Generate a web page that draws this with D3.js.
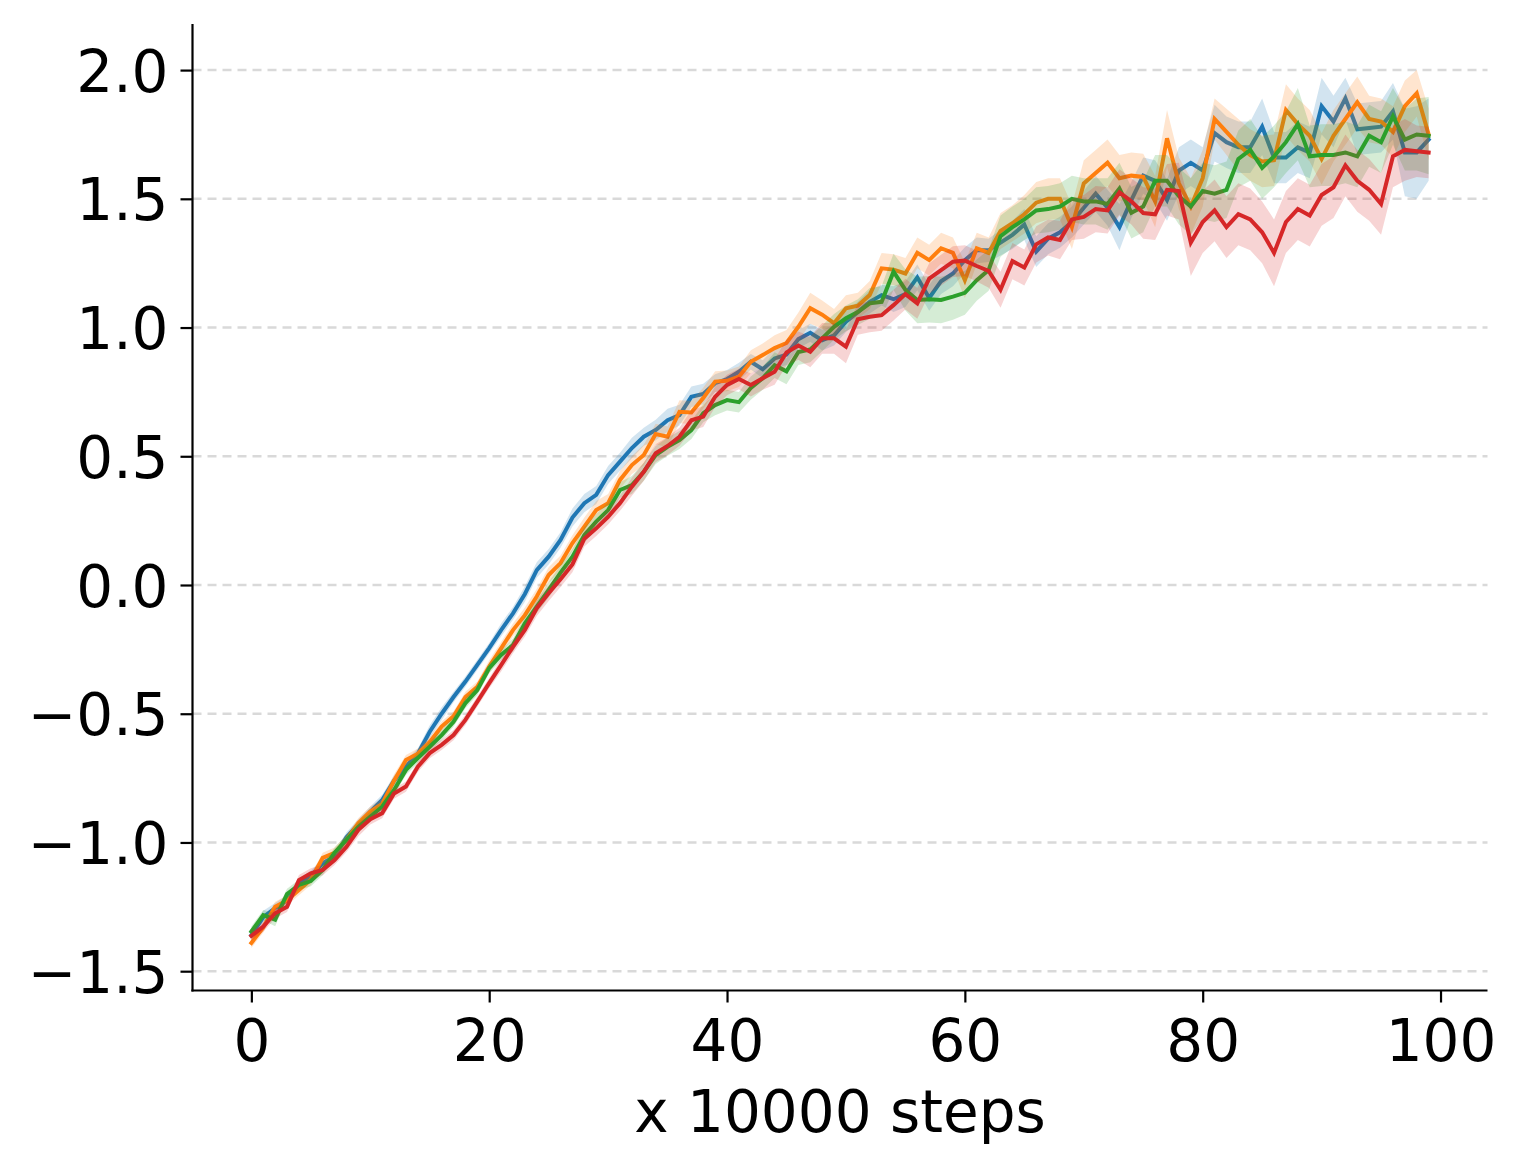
<!DOCTYPE html>
<html>
<head>
<meta charset="utf-8">
<script src="https://cdn.jsdelivr.net/npm/d3@7"></script>
<style>
  html, body { margin: 0; padding: 0; background: #fff; }
  svg { display: block; }
  text { font-family: "DejaVu Sans", sans-serif; fill: #000; }
</style>
</head>
<body>
<svg id="chart" width="1521" height="1169"></svg>
<script>
// ---- data ----
const steps = d3.range(100); // x values 0..99 (x 10000 steps)
const xTicks = [0, 20, 40, 60, 80, 100];
const yTicks = [-1.5, -1.0, -0.5, 0.0, 0.5, 1.0, 1.5, 2.0];
const xLabel = "x 10000 steps";
const seriesNames = ["blue", "orange", "green", "red"];
const seriesColors = ["#1f77b4", "#ff7f0e", "#2ca02c", "#d62728"];

const blueMean = [-1.36,-1.29,-1.255,-1.225,-1.16,-1.13,-1.08,-1.055,-0.98,-0.93,
  -0.88,-0.835,-0.76,-0.705,-0.655,-0.57,-0.50,-0.435,-0.375,-0.31,
  -0.245,-0.175,-0.11,-0.035,0.058,0.11,0.175,0.262,0.318,0.35,
  0.427,0.479,0.532,0.576,0.602,0.64,0.66,0.731,0.742,0.784,
  0.80,0.828,0.867,0.838,0.88,0.895,0.955,0.98,0.951,0.97,
  1.023,1.06,1.10,1.126,1.11,1.13,1.195,1.115,1.18,1.21,
  1.262,1.30,1.30,1.33,1.36,1.40,1.295,1.345,1.37,1.41,
  1.465,1.52,1.465,1.39,1.495,1.59,1.57,1.495,1.61,1.64,
  1.61,1.755,1.72,1.70,1.70,1.78,1.66,1.66,1.70,1.68,
  1.86,1.80,1.89,1.77,1.775,1.78,1.84,1.68,1.68,1.73];
const blueSpread = [0.02,0.025,0.02,0.02,0.02,0.02,0.02,0.02,0.02,0.02,
  0.02,0.02,0.02,0.025,0.02,0.025,0.025,0.02,0.02,0.02,
  0.02,0.025,0.025,0.03,0.03,0.03,0.03,0.035,0.035,0.035,
  0.035,0.035,0.04,0.035,0.04,0.045,0.04,0.04,0.04,0.035,
  0.035,0.035,0.03,0.035,0.04,0.04,0.035,0.035,0.04,0.04,
  0.04,0.04,0.045,0.04,0.05,0.05,0.05,0.05,0.05,0.05,
  0.05,0.05,0.045,0.05,0.055,0.06,0.06,0.06,0.06,0.06,
  0.065,0.07,0.07,0.09,0.07,0.07,0.08,0.08,0.09,0.09,
  0.09,0.11,0.10,0.10,0.10,0.11,0.10,0.10,0.10,0.10,
  0.11,0.10,0.08,0.10,0.10,0.10,0.11,0.17,0.18,0.16];

const orangeMean = [-1.39,-1.33,-1.25,-1.225,-1.185,-1.145,-1.06,-1.04,-0.99,-0.925,
  -0.88,-0.85,-0.76,-0.68,-0.655,-0.61,-0.55,-0.51,-0.435,-0.395,
  -0.317,-0.246,-0.175,-0.117,-0.045,0.039,0.085,0.163,0.227,0.291,
  0.318,0.408,0.466,0.505,0.586,0.576,0.673,0.67,0.726,0.79,
  0.793,0.809,0.867,0.893,0.92,0.94,1.003,1.075,1.05,1.017,
  1.075,1.085,1.126,1.23,1.225,1.21,1.29,1.262,1.308,1.29,
  1.184,1.308,1.29,1.375,1.405,1.44,1.485,1.50,1.50,1.39,
  1.56,1.60,1.64,1.58,1.59,1.585,1.49,1.735,1.56,1.47,
  1.58,1.81,1.76,1.71,1.67,1.645,1.65,1.845,1.79,1.745,
  1.655,1.745,1.81,1.875,1.81,1.80,1.76,1.86,1.91,1.75];
const orangeSpread = [0.02,0.02,0.02,0.02,0.02,0.02,0.02,0.02,0.02,0.02,
  0.02,0.02,0.025,0.02,0.02,0.02,0.02,0.02,0.02,0.02,
  0.025,0.025,0.025,0.03,0.03,0.03,0.03,0.03,0.035,0.035,
  0.035,0.035,0.035,0.04,0.04,0.04,0.045,0.045,0.04,0.04,
  0.04,0.04,0.045,0.045,0.05,0.05,0.055,0.06,0.055,0.055,
  0.05,0.05,0.055,0.06,0.06,0.06,0.06,0.06,0.06,0.06,
  0.07,0.06,0.06,0.07,0.07,0.075,0.08,0.08,0.08,0.085,
  0.09,0.09,0.09,0.09,0.09,0.09,0.10,0.11,0.10,0.11,
  0.11,0.08,0.09,0.10,0.10,0.10,0.10,0.10,0.10,0.10,
  0.10,0.10,0.10,0.10,0.09,0.09,0.10,0.10,0.09,0.10];

const greenMean = [-1.346,-1.282,-1.30,-1.20,-1.165,-1.15,-1.107,-1.04,-0.99,-0.94,
  -0.90,-0.861,-0.796,-0.718,-0.672,-0.628,-0.583,-0.531,-0.459,-0.408,
  -0.323,-0.272,-0.233,-0.149,-0.084,-0.019,0.048,0.11,0.194,0.246,
  0.291,0.369,0.388,0.44,0.505,0.537,0.563,0.602,0.667,0.699,
  0.718,0.71,0.765,0.803,0.854,0.83,0.905,0.915,0.958,1.003,
  1.036,1.06,1.094,1.10,1.217,1.146,1.107,1.11,1.107,1.12,
  1.135,1.184,1.223,1.355,1.39,1.42,1.455,1.46,1.47,1.50,
  1.49,1.49,1.48,1.54,1.446,1.47,1.57,1.57,1.51,1.47,
  1.53,1.52,1.535,1.655,1.69,1.62,1.665,1.72,1.79,1.665,
  1.67,1.67,1.68,1.665,1.745,1.72,1.82,1.73,1.75,1.745];
const greenSpread = [0.02,0.02,0.025,0.02,0.02,0.02,0.02,0.02,0.02,0.02,
  0.02,0.02,0.02,0.02,0.02,0.02,0.02,0.02,0.02,0.02,
  0.02,0.02,0.025,0.025,0.025,0.03,0.03,0.03,0.03,0.03,
  0.03,0.03,0.035,0.035,0.035,0.035,0.035,0.035,0.035,0.04,
  0.04,0.04,0.045,0.045,0.05,0.05,0.05,0.05,0.05,0.05,
  0.05,0.05,0.06,0.06,0.07,0.08,0.09,0.09,0.09,0.09,
  0.085,0.08,0.08,0.08,0.08,0.08,0.09,0.09,0.09,0.09,
  0.09,0.09,0.10,0.10,0.10,0.10,0.10,0.10,0.11,0.11,
  0.11,0.11,0.11,0.11,0.12,0.12,0.12,0.12,0.14,0.12,
  0.12,0.12,0.12,0.12,0.12,0.12,0.11,0.12,0.14,0.15];

const redMean = [-1.363,-1.327,-1.275,-1.25,-1.146,-1.12,-1.107,-1.068,-1.017,-0.951,
  -0.91,-0.886,-0.81,-0.783,-0.706,-0.653,-0.621,-0.583,-0.524,-0.453,
  -0.381,-0.311,-0.24,-0.175,-0.09,-0.032,0.022,0.08,0.18,0.22,
  0.265,0.318,0.382,0.44,0.512,0.54,0.576,0.64,0.654,0.731,
  0.777,0.80,0.777,0.803,0.828,0.903,0.93,0.906,0.958,0.958,
  0.926,1.032,1.042,1.048,1.087,1.13,1.094,1.19,1.223,1.256,
  1.26,1.239,1.22,1.147,1.258,1.233,1.323,1.35,1.34,1.42,
  1.43,1.46,1.455,1.525,1.49,1.445,1.44,1.535,1.53,1.33,
  1.41,1.455,1.39,1.44,1.42,1.37,1.29,1.41,1.46,1.435,
  1.515,1.545,1.63,1.57,1.535,1.48,1.665,1.69,1.685,1.68];
const redSpread = [0.02,0.02,0.02,0.02,0.02,0.02,0.02,0.02,0.02,0.025,
  0.02,0.02,0.02,0.02,0.02,0.02,0.02,0.02,0.02,0.02,
  0.02,0.025,0.025,0.025,0.03,0.03,0.03,0.03,0.03,0.03,
  0.03,0.03,0.035,0.035,0.035,0.035,0.035,0.04,0.04,0.04,
  0.04,0.04,0.045,0.045,0.05,0.05,0.055,0.06,0.06,0.06,
  0.065,0.06,0.06,0.06,0.06,0.06,0.06,0.06,0.06,0.06,
  0.06,0.06,0.065,0.07,0.07,0.07,0.07,0.07,0.075,0.08,
  0.085,0.09,0.09,0.09,0.09,0.10,0.10,0.10,0.11,0.13,
  0.12,0.12,0.12,0.12,0.12,0.12,0.13,0.12,0.12,0.12,
  0.12,0.12,0.12,0.12,0.12,0.12,0.12,0.12,0.10,0.10];

const means = [blueMean, orangeMean, greenMean, redMean];
const spreads = [blueSpread, orangeSpread, greenSpread, redSpread];

// ---- layout ----
(function draw() {
  const svg = d3.select("#chart");
  const pL = 192.5, pR = 1487.5, pT = 24, pB = 990.5;

  const x = d3.scaleLinear().domain([-4.95, 103.95]).range([pL, pR]);
  const y = d3.scaleLinear().domain([-1.575, 2.179]).range([pB, pT]);

  // grid
  svg.append("g").selectAll("line").data(yTicks).join("line")
    .attr("x1", pL).attr("x2", pR)
    .attr("y1", d => y(d)).attr("y2", d => y(d))
    .attr("stroke", "#d9d9d9").attr("stroke-width", 2.5)
    .attr("stroke-dasharray", "9,6");

  // series
  const area = (m, s) => d3.area()
    .x((d, i) => x(steps[i]))
    .y0((d, i) => y(m[i] - s[i]))
    .y1((d, i) => y(m[i] + s[i]));
  const line = m => d3.line().x((d, i) => x(steps[i])).y((d, i) => y(m[i]));

  const gSeries = svg.append("g");
  seriesNames.forEach((name, k) => {
    gSeries.append("path")
      .attr("d", area(means[k], spreads[k])(steps))
      .attr("fill", seriesColors[k]).attr("fill-opacity", 0.2)
      .attr("stroke", "none");
    gSeries.append("path")
      .attr("d", line(means[k])(steps))
      .attr("fill", "none").attr("stroke", seriesColors[k])
      .attr("stroke-width", 4).attr("stroke-linejoin", "miter")
      .attr("stroke-linecap", "square");
  });

  // axes
  const fmt = d3.format(".1f");
  const yAxis = d3.axisLeft(y).tickValues(yTicks).tickFormat(fmt).tickSize(12).tickPadding(12);
  const xAxis = d3.axisBottom(x).tickValues(xTicks).tickFormat(d3.format("d")).tickSize(12).tickPadding(14);

  const gy = svg.append("g").attr("transform", `translate(${pL},0)`).call(yAxis);
  const gx = svg.append("g").attr("transform", `translate(0,${pB})`).call(xAxis);
  [gx, gy].forEach(g => {
    g.select(".domain").remove();
    g.selectAll(".tick line").attr("stroke", "#000").attr("stroke-width", 2.2);
    g.selectAll(".tick text").attr("font-family", "DejaVu Sans").attr("font-size", 58).attr("fill", "#000");
  });
  gy.selectAll(".tick text").attr("dy", null).attr("dominant-baseline", "central").attr("y", 1);
  gx.selectAll(".tick text").attr("dy", null).attr("y", null)
    .attr("transform", "translate(0,70)");

  // spines
  svg.append("line").attr("x1", pL).attr("x2", pL).attr("y1", pT).attr("y2", pB + 1.1)
    .attr("stroke", "#000").attr("stroke-width", 2.2);
  svg.append("line").attr("x1", pL - 1.1).attr("x2", pR).attr("y1", pB).attr("y2", pB)
    .attr("stroke", "#000").attr("stroke-width", 2.2);

  // x label
  svg.append("text").attr("x", (pL + pR) / 2).attr("y", 1132)
    .attr("text-anchor", "middle").attr("font-size", 58).text(xLabel);
})();
</script>
</body>
</html>
